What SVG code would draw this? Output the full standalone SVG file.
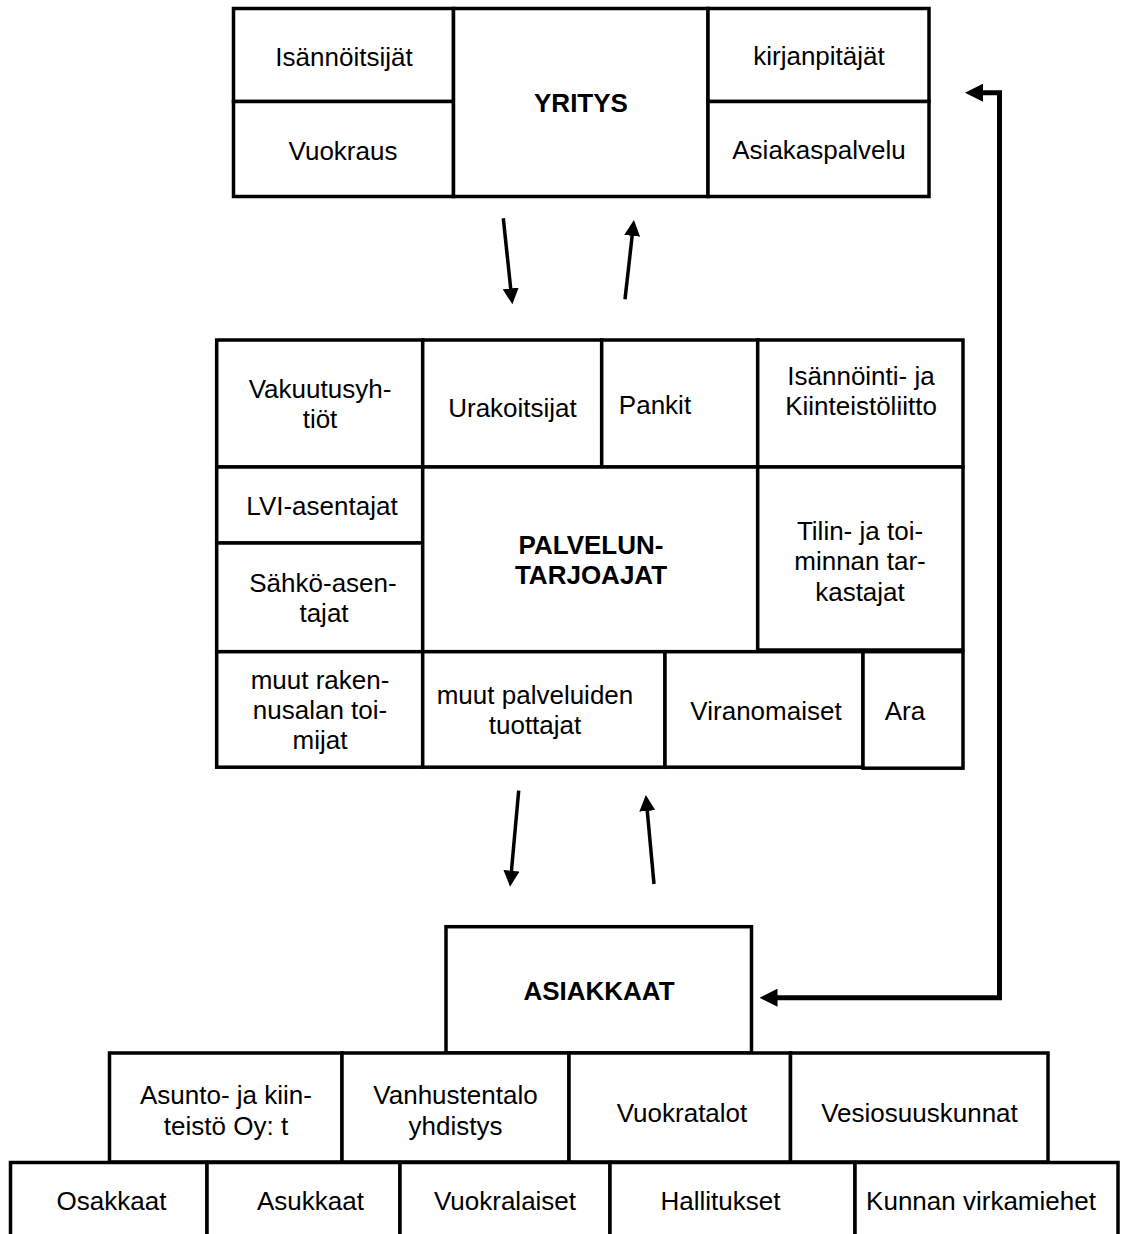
<svg xmlns="http://www.w3.org/2000/svg" width="1122" height="1234" viewBox="0 0 1122 1234">
<style>
.b{fill:#fff;stroke:#000;stroke-width:3.5}
.t{font-family:"Liberation Sans",Arial,sans-serif;font-size:26px;fill:#000;text-anchor:middle}
.h{font-weight:bold}
.c{fill:none;stroke:#000;stroke-width:3.5}
.k{fill:none;stroke:#000;stroke-width:5}
</style>
<defs>
<marker id="a" viewBox="0 0 16 16" refX="4" refY="8" markerWidth="16" markerHeight="16" markerUnits="userSpaceOnUse" orient="auto"><path d="M0,0 L16,8 L0,16 z" fill="#000"/></marker>
<marker id="a2" viewBox="0 0 18 18" refX="6" refY="9" markerWidth="18" markerHeight="18" markerUnits="userSpaceOnUse" orient="auto-start-reverse"><path d="M0,0 L18,9 L0,18 z" fill="#000"/></marker>
</defs>
<rect width="1122" height="1234" fill="#fff"/>

<!-- YRITYS block -->
<g id="isannoitsijat"><rect class="b" x="233.5" y="8.5" width="220" height="93"/><text class="t" x="344" y="66">Isännöitsijät</text></g>
<g id="vuokraus"><rect class="b" x="233.5" y="101.5" width="220" height="95"/><text class="t" x="343" y="160">Vuokraus</text></g>
<g id="yritys"><rect class="b" x="453.5" y="8.5" width="254.5" height="188"/><text class="t h" x="581" y="112">YRITYS</text></g>
<g id="kirjanpitajat"><rect class="b" x="708" y="8.5" width="221" height="93"/><text class="t" x="819" y="65">kirjanpitäjät</text></g>
<g id="asiakaspalvelu"><rect class="b" x="708" y="101.5" width="221" height="95"/><text class="t" x="819" y="159">Asiakaspalvelu</text></g>

<!-- PALVELUNTARJOAJAT block -->
<g id="vakuutusyhtiot"><rect class="b" x="216.7" y="340" width="206" height="127"/><text class="t" x="320" y="398">Vakuutusyh-</text><text class="t" x="320" y="428">tiöt</text></g>
<g id="urakoitsijat"><rect class="b" x="422.7" y="340" width="179" height="127"/><text class="t" x="512.5" y="416.5">Urakoitsijat</text></g>
<g id="pankit"><rect class="b" x="601.7" y="340" width="156" height="127"/><text class="t" x="655" y="413.5">Pankit</text></g>
<g id="isannointiliitto"><rect class="b" x="757.7" y="340" width="205.3" height="127"/><text class="t" x="861" y="384.5">Isännöinti- ja</text><text class="t" x="861" y="415">Kiinteistöliitto</text></g>
<g id="lvi"><rect class="b" x="216.7" y="467" width="206" height="76"/><text class="t" x="322" y="515">LVI-asentajat</text></g>
<g id="sahko"><rect class="b" x="216.7" y="543" width="206" height="108.7"/><text class="t" x="323" y="592">Sähkö-asen-</text><text class="t" x="324" y="622">tajat</text></g>
<g id="palveluntarjoajat"><rect class="b" x="422.7" y="467" width="335" height="184.7"/><text class="t h" x="591" y="554">PALVELUN-</text><text class="t h" x="591" y="584">TARJOAJAT</text></g>
<g id="tilintarkastajat"><rect class="b" x="757.7" y="467" width="205.3" height="183"/><text class="t" x="860" y="539.5">Tilin- ja toi-</text><text class="t" x="860" y="570">minnan tar-</text><text class="t" x="860" y="600.5">kastajat</text></g>
<g id="muutrakennus"><rect class="b" x="216.7" y="651.7" width="206" height="115.5"/><text class="t" x="320" y="688.5">muut raken-</text><text class="t" x="320" y="718.5">nusalan toi-</text><text class="t" x="320" y="748.5">mijat</text></g>
<g id="muutpalvelut"><rect class="b" x="422.7" y="651.7" width="242.3" height="115.5"/><text class="t" x="535" y="703.5">muut palveluiden</text><text class="t" x="535" y="733.5">tuottajat</text></g>
<g id="viranomaiset"><rect class="b" x="665" y="651.7" width="198" height="115.5"/><text class="t" x="766" y="719.5">Viranomaiset</text></g>
<g id="ara"><rect class="b" x="863" y="651.7" width="100" height="116.5"/><text class="t" x="905" y="719.5">Ara</text></g>

<!-- ASIAKKAAT -->
<g id="asiakkaat"><rect class="b" x="446" y="926.7" width="305.5" height="126.3"/><text class="t h" x="599" y="1000">ASIAKKAAT</text></g>

<!-- Row 2 -->
<g id="asuntooy"><rect class="b" x="109.5" y="1053" width="232.5" height="109"/><text class="t" x="226" y="1103.5">Asunto- ja kiin-</text><text class="t" x="226" y="1135">teistö Oy: t</text></g>
<g id="vanhustentalo"><rect class="b" x="342" y="1053" width="227" height="109"/><text class="t" x="455.5" y="1103.5">Vanhustentalo</text><text class="t" x="455.5" y="1135">yhdistys</text></g>
<g id="vuokratalot"><rect class="b" x="569" y="1053" width="221.5" height="109"/><text class="t" x="682" y="1121.5">Vuokratalot</text></g>
<g id="vesiosuuskunnat"><rect class="b" x="790.5" y="1053" width="257.5" height="109"/><text class="t" x="919.5" y="1121.5">Vesiosuuskunnat</text></g>

<!-- Row 3 -->
<g id="osakkaat"><rect class="b" x="10.5" y="1162.5" width="196.5" height="80"/><text class="t" x="111.5" y="1210">Osakkaat</text></g>
<g id="asukkaat"><rect class="b" x="207" y="1162.5" width="193" height="80"/><text class="t" x="310.5" y="1210">Asukkaat</text></g>
<g id="vuokralaiset"><rect class="b" x="400" y="1162.5" width="210" height="80"/><text class="t" x="505" y="1210">Vuokralaiset</text></g>
<g id="hallitukset"><rect class="b" x="610" y="1162.5" width="245" height="80"/><text class="t" x="720.5" y="1210">Hallitukset</text></g>
<g id="kunnanvirkamiehet"><rect class="b" x="855" y="1162.5" width="263" height="80"/><text class="t" x="981" y="1210">Kunnan virkamiehet</text></g>

<!-- Connectors -->
<g id="connectors">
<line class="c" x1="503.3" y1="218.3" x2="511.1" y2="292.4" marker-end="url(#a)"/>
<line class="c" x1="625" y1="299.3" x2="632.6" y2="231.9" marker-end="url(#a)"/>
<line class="c" x1="518.7" y1="790.7" x2="511.1" y2="874.7" marker-end="url(#a)"/>
<line class="c" x1="654" y1="884" x2="646.9" y2="807" marker-end="url(#a)"/>
<path class="k" d="M977,92.7 L999.5,92.7 L999.5,997.7 L771.5,997.7" marker-start="url(#a2)" marker-end="url(#a2)"/>
</g>
</svg>
